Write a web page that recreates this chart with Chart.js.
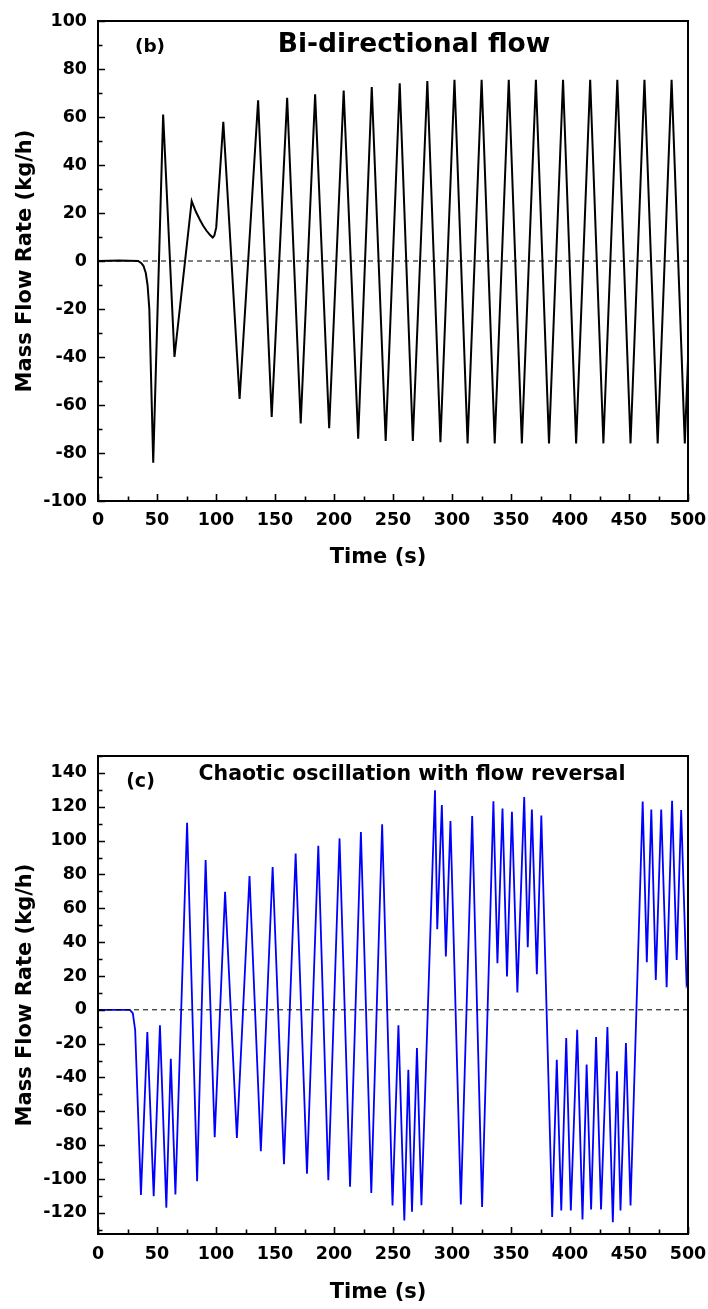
<!DOCTYPE html>
<html>
<head>
<meta charset="utf-8">
<script src="https://cdn.jsdelivr.net/npm/chart.js@4.4.1/dist/chart.umd.min.js"></script>
<style>
  html, body { margin: 0; padding: 0; background: #ffffff; }
  body { width: 708px; height: 1309px; position: relative; overflow: hidden; }
  .panel { position: absolute; left: 0; width: 708px; }
  #wrapB { top: 0; height: 600px; }
  #wrapC { top: 700px; height: 609px; }
  canvas { display: block; }
</style>
</head>
<body>
<div class="panel" id="wrapB"><canvas id="chartB" width="708" height="600"></canvas></div>
<div class="panel" id="wrapC"><canvas id="chartC" width="708" height="609"></canvas></div>
<script>
// ---- Panel (b): bi-directional flow, turning points of the mass flow trace ----
const timeB = [0, 18, 34, 36.5, 38.5, 40.5, 42, 43.5, 46.8,
  55.2, 64.8, 79.4, 80.8, 83, 86, 89, 92, 95, 97.2, 98.6, 100.2, 106.2,
  120, 135.7, 147.2, 160.3, 171.8, 184, 195.9, 208.2, 220.5, 232,
  243.8, 255.7, 266.8, 279.1, 290.2, 302.1, 313.2, 325.1, 336.2, 348.1,
  359.2, 371.1, 382.2, 394.1, 405.2, 417.1, 428.3, 440.1, 451.3, 463.1,
  474.3, 486.1, 497.3, 500];
const flowB = [0, 0.2, 0, -0.8, -2, -5, -10, -20, -84,
  61, -40, 25, 23.2, 20.5, 17.5, 14.8, 12.6, 10.8, 9.8, 10.6, 14, 58,
  -57.5, 67, -65, 68, -67.7, 69.5, -69.7, 71, -74, 72.5,
  -75, 74, -75, 75, -75.5, 75.5, -76, 75.5, -76, 75.5,
  -76, 75.5, -76, 75.5, -76, 75.5, -76, 75.5, -76, 75.5,
  -76, 75.5, -76, -41];

// ---- Panel (c): chaotic oscillation with flow reversal ----
const timeC = [0, 27, 29.5, 31.5, 36.4, 41.8, 47.2, 52.5, 57.9, 61.7, 65.6,
  75.5, 84, 91.2, 98.9, 107.7, 117.7, 128.4, 138, 148, 157.6, 167.5, 177.1,
  186.7, 195.2, 204.7, 213.6, 222.8, 231.6, 240.8, 249.6, 254.6, 259.6, 263,
  266.1, 270.3, 274.1, 285.6, 287.5, 291.4, 294.8, 298.7, 307.5, 317.1, 325.5,
  335.1, 338.5, 342.8, 346.6, 350.8, 355.4, 361.2, 364.2, 367.7, 371.9, 375.7,
  384.9, 388.8, 392.6, 396.8, 400.7, 406.1, 410.6, 414.1, 417.9, 422.1, 426.3,
  431.7, 436.3, 439.8, 442.8, 447.4, 451.3, 461.6, 465.1, 468.9, 472.7, 477.3,
  481.9, 486.5, 490.4, 494.2, 498.8, 500];
const flowC = [0, 0, -2, -12, -109.5, -13.2, -110.1, -9.2, -117, -28.9, -109.1,
  110.5, -101.3, 88.5, -75.3, 69.8, -75.7, 79, -83.6, 84.4, -91.3, 92.4, -96.8,
  97, -100.7, 101.3, -104.6, 105, -108.2, 109.7, -115.6, -9.2, -124.5, -35.4,
  -119.4, -22.6, -115.5, 129.8, 47.6, 121, 31.5, 111.5, -115, 114.5, -116.6,
  123.3, 27.5, 119, 19.7, 117, 10.2, 125.8, 37, 118.4, 21, 114.8,
  -122.5, -29.5, -118.6, -16.7, -118.6, -11.8, -123.9, -32.4, -118, -16.1, -118,
  -10.2, -125.5, -36.4, -118.6, -19.7, -115.6, 123.1, 28.1, 118.4, 17.7, 118.4,
  13.4, 123.5, 29.5, 118, 15.3, 18];

// ---- Axis tick labels ----
const timeTicks = [0, 50, 100, 150, 200, 250, 300, 350, 400, 450, 500];
const flowTicksB = [-100, -80, -60, -40, -20, 0, 20, 40, 60, 80, 100];
const flowTicksC = [-120, -100, -80, -60, -40, -20, 0, 20, 40, 60, 80, 100, 120, 140];

const FONT = "'DejaVu Sans', 'Liberation Sans', Arial, sans-serif";

function withMinor(labels, lo, hi) {
  // labelled ticks plus one unlabelled tick half way between neighbours
  const step = labels[1] - labels[0];
  const out = [];
  for (let v = labels[0] - step / 2; v <= labels[labels.length - 1] + step / 2 + 1e-9; v += step / 2) {
    if (v >= lo - 1e-9 && v <= hi + 1e-9) out.push(Math.round(v * 1000) / 1000);
  }
  return out;
}

// Inward tick marks and a closed frame round the plot area
const framePlugin = {
  id: 'frameTicks',
  afterDatasetsDraw(chart, args, opts) {
    const { ctx, chartArea: a, scales: { x, y } } = chart;
    ctx.save();
    ctx.strokeStyle = '#000';
    ctx.lineWidth = 1.6;
    ctx.beginPath();
    x.ticks.forEach(t => {
      const px = Math.round(x.getPixelForValue(t.value)) + 0.5;
      const len = opts.xLabels.includes(t.value) ? 7 : 4.5;
      ctx.moveTo(px, a.bottom);
      ctx.lineTo(px, a.bottom - len);
    });
    y.ticks.forEach(t => {
      const py = Math.round(y.getPixelForValue(t.value)) + 0.5;
      const len = opts.yLabels.includes(t.value) ? 7 : 4.5;
      ctx.moveTo(a.left, py);
      ctx.lineTo(a.left + len, py);
    });
    ctx.stroke();
    ctx.lineWidth = 2;
    ctx.strokeRect(a.left, a.top, a.right - a.left, a.bottom - a.top);
    ctx.restore();
  }
};

// Panel letter, heading and the time-axis caption
const notePlugin = {
  id: 'notes',
  afterDraw(chart, args, opts) {
    const { ctx, chartArea: a } = chart;
    ctx.save();
    ctx.fillStyle = '#000';
    ctx.textBaseline = 'alphabetic';
    ctx.textAlign = 'center';
    opts.items.forEach(it => {
      ctx.font = 'bold ' + it.size + 'px ' + FONT;
      const yBase = it.fromBottom ? a.bottom + it.dy : a.top + it.dy;
      ctx.fillText(it.text, a.left + it.dx, yBase);
    });
    ctx.restore();
  }
};

function makeChart(id, cfg) {
  const series = cfg.time.map((t, i) => ({ x: t, y: cfg.flow[i] }));
  return new Chart(document.getElementById(id), {
    type: 'line',
    data: {
      datasets: [
        {
          data: series,
          borderColor: cfg.color,
          borderWidth: cfg.width,
          pointRadius: 0,
          tension: 0,
          fill: false,
          order: 2
        },
        {
          data: [{ x: 0, y: 0 }, { x: 500, y: 0 }],
          borderColor: '#000',
          borderWidth: 1,
          borderDash: [5, 4],
          pointRadius: 0,
          fill: false,
          order: 1
        }
      ]
    },
    options: {
      responsive: false,
      devicePixelRatio: 1,
      animation: false,
      events: [],
      layout: { padding: { left: 0, right: 20, top: cfg.top, bottom: 0 } },
      plugins: {
        legend: { display: false },
        tooltip: { enabled: false },
        frameTicks: { xLabels: timeTicks, yLabels: cfg.yLabels },
        notes: { items: cfg.notes }
      },
      scales: {
        x: {
          type: 'linear',
          min: 0,
          max: 500,
          afterBuildTicks(s) { s.ticks = withMinor(timeTicks, 0, 500).map(v => ({ value: v })); },
          afterFit(s) { s.height = cfg.xHeight; s.paddingLeft = 0; s.paddingRight = 0; },
          grid: { display: false, drawTicks: false },
          border: { display: false },
          ticks: {
            autoSkip: false,
            maxRotation: 0,
            padding: cfg.xPad,
            color: '#000',
            font: { family: FONT, size: 17.5, weight: 'bold' },
            callback: v => (timeTicks.includes(v) ? String(v) : '')
          },
          title: { display: false }
        },
        y: {
          type: 'linear',
          min: cfg.yMin,
          max: cfg.yMax,
          afterBuildTicks(s) { s.ticks = withMinor(cfg.yLabels, cfg.yMin, cfg.yMax).map(v => ({ value: v })); },
          afterFit(s) { s.width = 98; s.paddingTop = 0; s.paddingBottom = 0; },
          grid: { display: false, drawTicks: false },
          border: { display: false },
          ticks: {
            autoSkip: false,
            padding: 11,
            color: '#000',
            font: { family: FONT, size: 17.5, weight: 'bold' },
            callback: v => (cfg.yLabels.includes(v) ? String(v) : '')
          },
          title: {
            display: true,
            text: 'Mass Flow Rate (kg/h)',
            color: '#000',
            font: { family: FONT, size: 21, weight: 'bold' },
            padding: { top: 13, bottom: 0 }
          }
        }
      }
    },
    plugins: [framePlugin, notePlugin]
  });
}

makeChart('chartB', {
  time: timeB, flow: flowB, color: '#000000', width: 2,
  yMin: -100, yMax: 100, yLabels: flowTicksB,
  top: 21, xHeight: 99, xPad: 8.5,
  notes: [
    { text: '(b)', size: 18.5, dx: 52, dy: 31 },
    { text: 'Bi-directional flow', size: 26.5, dx: 316, dy: 31 },
    { text: 'Time (s)', size: 21, dx: 280, dy: 62, fromBottom: true }
  ]
});

makeChart('chartC', {
  time: timeC, flow: flowC, color: '#0000ff', width: 1.8,
  yMin: -132.5, yMax: 150, yLabels: flowTicksC,
  top: 56, xHeight: 75, xPad: 10,
  notes: [
    { text: '(c)', size: 19, dx: 42.5, dy: 31 },
    { text: 'Chaotic oscillation with flow reversal', size: 20.5, dx: 314, dy: 24 },
    { text: 'Time (s)', size: 21, dx: 280, dy: 64, fromBottom: true }
  ]
});
</script>
</body>
</html>
